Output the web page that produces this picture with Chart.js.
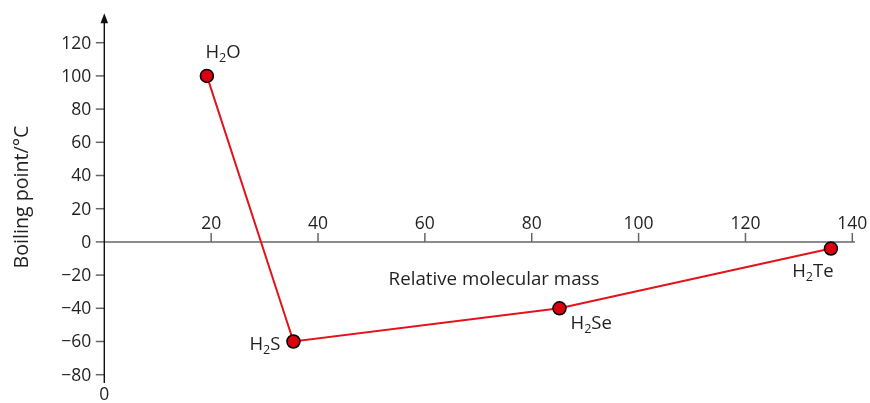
<!DOCTYPE html>
<html><head><meta charset="utf-8">
<script src="https://cdn.jsdelivr.net/npm/chart.js@4/dist/chart.umd.min.js"></script>
<style>html,body{margin:0;padding:0;background:#fff}canvas{display:block}</style>
</head><body>
<canvas id="c" width="870" height="403"></canvas>
<script>
// ---- data ----
const compounds = ['H₂O', 'H₂S', 'H₂Se', 'H₂Te'];
const molecularMass = [19.2, 35.4, 85.2, 136];
const boilingPoint = [100, -60, -40, -4];
const xTicks = [20, 40, 60, 80, 100, 120, 140];
const xTickLabels = ['20', '40', '60', '80', '100', '120', '140'];
const yTicks = [-80, -60, -40, -20, 0, 20, 40, 60, 80, 100, 120];
const yTickLabels = ['−80', '−60', '−40', '−20', '0', '20', '40', '60', '80', '100', '120'];
const xTitle = 'Relative molecular mass';
const yTitle = 'Boiling point/°C';
const originLabel = '0';

const FONT = '"Open Sans", "Noto Sans", sans-serif';
const TEXT = '#231f20';

function fitFont(ctx, text, targetWidth) {
  ctx.font = '20px ' + FONT;
  const w = ctx.measureText(text).width;
  return 20 * targetWidth / w;
}

function drawFormula(ctx, text, x, y, size, align) {
  const parts = [];
  for (const ch of text) {
    const code = ch.codePointAt(0);
    if (code >= 0x2080 && code <= 0x2089) parts.push({t: String(code - 0x2080), sub: true});
    else parts.push({t: ch, sub: false});
  }
  const subSize = size * 0.68;
  let w = 0;
  for (const p of parts) {
    ctx.font = (p.sub ? subSize : size) + 'px ' + FONT;
    p.w = ctx.measureText(p.t).width;
    w += p.w;
  }
  let cx = x;
  if (align === 'center') cx = x - w / 2;
  else if (align === 'right') cx = x - w;
  ctx.textAlign = 'left';
  ctx.textBaseline = 'alphabetic';
  for (const p of parts) {
    ctx.font = (p.sub ? subSize : size) + 'px ' + FONT;
    ctx.fillText(p.t, cx, p.sub ? y + size * 0.22 : y);
    cx += p.w;
  }
}

const axesPlugin = {
  id: 'axes',
  beforeDatasetsDraw(chart) {
    const {ctx, scales: {x, y}} = chart;
    const x0 = x.getPixelForValue(0);
    const y0 = y.getPixelForValue(0);
    ctx.save();
    // x axis (through y = 0)
    ctx.strokeStyle = '#666';
    ctx.lineWidth = 1.5;
    ctx.beginPath();
    ctx.moveTo(x0, y0);
    ctx.lineTo(x.getPixelForValue(140.5), y0);
    ctx.stroke();
    ctx.fillStyle = TEXT;
    ctx.font = '17.5px ' + FONT;
    ctx.textAlign = 'center';
    ctx.textBaseline = 'alphabetic';
    xTicks.forEach((v, i) => {
      const px = x.getPixelForValue(v);
      ctx.beginPath();
      ctx.moveTo(px, y0);
      ctx.lineTo(px, y0 - 9);
      ctx.stroke();
      ctx.fillText(xTickLabels[i], px, y0 - 12.5);
    });
    // y ticks
    ctx.textAlign = 'right';
    ctx.textBaseline = 'middle';
    yTicks.forEach((v, i) => {
      const py = y.getPixelForValue(v);
      ctx.beginPath();
      ctx.moveTo(x0 - 8.5, py);
      ctx.lineTo(x0, py);
      ctx.stroke();
      ctx.fillText(yTickLabels[i], x0 - 13, py + 1);
    });
    // y axis line with arrow
    const yTop = y.getPixelForValue(137.8);
    ctx.strokeStyle = '#111';
    ctx.lineWidth = 1.4;
    ctx.beginPath();
    ctx.moveTo(x0, y.getPixelForValue(-85));
    ctx.lineTo(x0, yTop + 6);
    ctx.stroke();
    ctx.fillStyle = '#111';
    ctx.beginPath();
    ctx.moveTo(x0, yTop);
    ctx.lineTo(x0 - 3.8, yTop + 10);
    ctx.lineTo(x0 + 3.8, yTop + 10);
    ctx.closePath();
    ctx.fill();
    // origin label
    ctx.fillStyle = TEXT;
    ctx.font = '17.5px ' + FONT;
    ctx.textAlign = 'center';
    ctx.textBaseline = 'top';
    ctx.fillText(originLabel, x0, 386);
    // x title
    ctx.font = fitFont(ctx, xTitle, 211) + 'px ' + FONT;
    ctx.textAlign = 'center';
    ctx.textBaseline = 'alphabetic';
    ctx.fillText(xTitle, 494, 285);
    // y title
    ctx.font = fitFont(ctx, yTitle, 143) + 'px ' + FONT;
    ctx.translate(28, 197);
    ctx.rotate(-Math.PI / 2);
    ctx.textAlign = 'center';
    ctx.textBaseline = 'alphabetic';
    ctx.fillText(yTitle, 0, 0);
    ctx.restore();
  },
  afterDatasetsDraw(chart) {
    const {ctx, scales: {x, y}} = chart;
    ctx.save();
    ctx.fillStyle = TEXT;
    const offsets = [
      {dx: -1.5, dy: -18, align: 'left'},
      {dx: -13, dy: 8.5, align: 'right'},
      {dx: 11, dy: 21, align: 'left'},
      {dx: -18, dy: 28, align: 'center'}
    ];
    compounds.forEach((name, i) => {
      const px = x.getPixelForValue(molecularMass[i]);
      const py = y.getPixelForValue(boilingPoint[i]);
      const o = offsets[i];
      drawFormula(ctx, name, px + o.dx, py + o.dy, 18.5, o.align);
    });
    ctx.restore();
  }
};

new Chart(document.getElementById('c'), {
  type: 'scatter',
  data: {
    datasets: [{
      data: molecularMass.map((m, i) => ({x: m, y: boilingPoint[i]})),
      showLine: true,
      borderColor: '#e3121b',
      borderWidth: 2,
      pointRadius: 6.5,
      pointBackgroundColor: '#d9000f',
      pointBorderColor: '#000',
      pointBorderWidth: 1.5,
      clip: false
    }]
  },
  options: {
    responsive: false,
    animation: false,
    layout: {padding: {left: 104.3, right: 17.7, top: 42.7, bottom: 28.3}},
    scales: {
      x: {type: 'linear', min: 0, max: 140, display: false},
      y: {type: 'linear', min: -80, max: 120, display: false}
    },
    plugins: {legend: {display: false}, tooltip: {enabled: false}}
  },
  plugins: [axesPlugin]
});
</script>
</body></html>
